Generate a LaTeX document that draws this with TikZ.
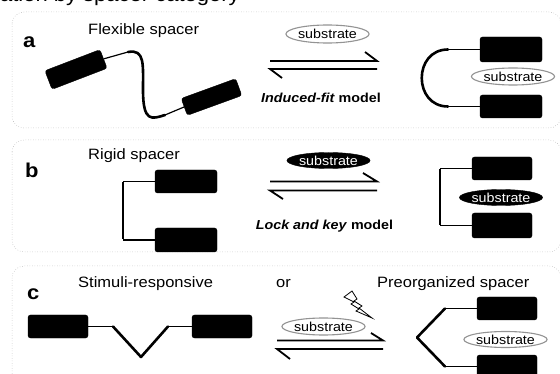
\documentclass[tikz,border=0pt]{standalone}
\usepackage{fontspec}
\setmainfont{Liberation Sans}[FakeStretch=1.1]
\usetikzlibrary{shapes.geometric}
\begin{document}
\begin{tikzpicture}[x=1pt,y=-1pt,
  panel/.style={draw=gray!70, dotted, line width=0.5pt, rounded corners=12pt},
  blk/.style={draw=black, fill=black, rounded corners=2.5pt, inner sep=0pt},
  lnthin/.style={line width=1.2pt},
  lnthick/.style={line width=2.6pt, line cap=round, line join=round},
  eq/.style={line width=1.8pt},
  subw/.style={ellipse, draw=gray!85, line width=1.1pt, fill=white, inner sep=0pt, font=\fontsize{13}{15}\selectfont},
  subb/.style={ellipse, draw=black, fill=black, text=white, inner sep=0pt, font=\fontsize{13}{15}\selectfont},
  ttl/.style={anchor=base west, inner sep=0pt, font=\fontsize{15}{18}\selectfont},
  lbl/.style={anchor=base west, inner sep=0pt, font=\fontsize{20}{24}\selectfont\bfseries},
  mdl/.style={inner sep=0pt, font=\fontsize{13}{16}\selectfont\bfseries}]
\useasboundingbox (0,0) rectangle (560,374);
\clip (0,0) rectangle (560,374);

% heading, cut off at the top edge as in the reference
\node[anchor=base east, inner sep=0pt, font=\fontsize{20}{24}\selectfont] (ttop) at (240,2) {Classification by spacer category};

% panels
\draw[panel] (12,12) rectangle (561,128);
\draw[panel] (12,140) rectangle (561,252);
\draw[panel] (12,266) rectangle (561,400);

% ---------- panel a ----------
\node[lbl] (la) at (23,48) {a};
\node[ttl] (ta) at (88,35) {Flexible spacer};
\node[blk, minimum width=59pt, minimum height=20pt, rotate=21] (A1) at (76,69.5) {};
\node[blk, minimum width=58pt, minimum height=18pt, rotate=20] (A2) at (211.5,97) {};
\coordinate (a1) at (128,52);
\coordinate (a2) at (165,115);
\draw[lnthin] (A1.east) -- (a1);
\draw[lnthick] (a1) .. controls (145,49) and (143,64) .. (143,90) .. controls (143,123) and (152,119) .. (a2);
\draw[lnthin] (a2) -- (A2.west);

\node[subw, minimum width=68pt, minimum height=18pt] (sa1) at (327.5,34) {substrate};
\draw[eq] (365,52) -- (377,61) -- (270,61);
\draw[eq] (282,78) -- (270,69) -- (377,69);
\node[mdl] (ma) at (321,98) {\textit{Induced-fit} model};

\node[blk, minimum width=62pt, minimum height=25pt] (A3) at (511,49.5) {};
\node[blk, minimum width=62pt, minimum height=23pt] (A4) at (511,106.5) {};
\coordinate (a3) at (448,49.5);
\coordinate (a4) at (448,106.5);
\draw[lnthin] (A3.west) -- (a3);
\draw[lnthick] (a3) .. controls (413,49.5) and (413,106.5) .. (a4);
\draw[lnthin] (a4) -- (A4.west);
\node[subw, minimum width=77pt, minimum height=17pt] (sa2) at (513,76.5) {substrate};

% ---------- panel b ----------
\node[lbl] (lb) at (25,178) {b};
\node[ttl] (tb) at (88,160) {Rigid spacer};
\node[blk, minimum width=62pt, minimum height=23pt] (B1) at (186,181.5) {};
\node[blk, minimum width=62pt, minimum height=24pt] (B2) at (186,240) {};
\coordinate (b1) at (123,181.5);
\coordinate (b2) at (123,240);
\draw[lnthin] (B1.west) -- (b1);
\draw[lnthin] (b2) -- (B2.west);
\draw[lnthick, line cap=butt] ([yshift=-0.6pt]b1) -- ([yshift=0.6pt]b2);

\node[subb, minimum width=67pt, minimum height=16pt] (sb1) at (328.5,160.5) {substrate};
\draw[eq] (363,173) -- (377,181.5) -- (270,181.5);
\draw[eq] (283,199) -- (270,190.5) -- (377,190.5);
\node[mdl] (mb) at (324.5,226) {\textit{Lock and key} model};

\node[blk, minimum width=60pt, minimum height=23pt] (B3) at (502,168.5) {};
\node[blk, minimum width=60pt, minimum height=25pt] (B4) at (502,225.5) {};
\coordinate (b3) at (440,168.5);
\coordinate (b4) at (440,225.5);
\draw[lnthin] (B3.west) -- (b3);
\draw[lnthin] (b4) -- (B4.west);
\draw[lnthick, line cap=butt] ([yshift=-0.6pt]b3) -- ([yshift=0.6pt]b4);
\node[subb, minimum width=78pt, minimum height=16pt] (sb2) at (501,197.5) {substrate};

% ---------- panel c ----------
\node[lbl] (lc) at (27,300) {c};
\node[ttl] (tc1) at (78,288) {Stimuli-responsive};
\node[ttl] (tc2) at (276,288) {or};
\node[ttl] (tc3) at (377,288) {Preorganized spacer};
\node[blk, minimum width=60pt, minimum height=23pt] (C1) at (58,326.5) {};
\node[blk, minimum width=60pt, minimum height=23pt] (C2) at (222,326.5) {};
\coordinate (c1) at (113,326.5);
\coordinate (cv) at (141,357);
\coordinate (c2) at (168,326.5);
\draw[lnthin] (C1.east) -- (c1);
\draw[lnthick] (c1) -- (cv) -- (c2);
\draw[lnthin] (c2) -- (C2.west);

\draw[line width=0.8pt, fill=white, line join=miter]
  (344,297) -- (352,291) -- (357,299) -- (354,301) -- (362,306) -- (359,308) -- (372,318)
  -- (356,311) -- (359,309) -- (351,304) -- (354,302) -- cycle;
\node[subw, minimum width=77pt, minimum height=17pt] (sc1) at (323.5,326.5) {substrate};
\draw[eq] (371,333) -- (383,340.5) -- (277,340.5);
\draw[eq] (290,359) -- (277,349) -- (383,349);

\node[blk, minimum width=60pt, minimum height=23pt] (C3) at (507,308.5) {};
\node[blk, minimum width=60pt, minimum height=23pt] (C4) at (507,366.5) {};
\coordinate (c3) at (445,308.5);
\coordinate (c4) at (417,337.5);
\coordinate (c5) at (445,366.5);
\draw[lnthin] (C3.west) -- (c3);
\draw[lnthick] (c3) -- (c4) -- (c5);
\draw[lnthin] (c5) -- (C4.west);
\node[subw, minimum width=75pt, minimum height=16pt] (sc2) at (505.5,339.5) {substrate};
\end{tikzpicture}
\end{document}
